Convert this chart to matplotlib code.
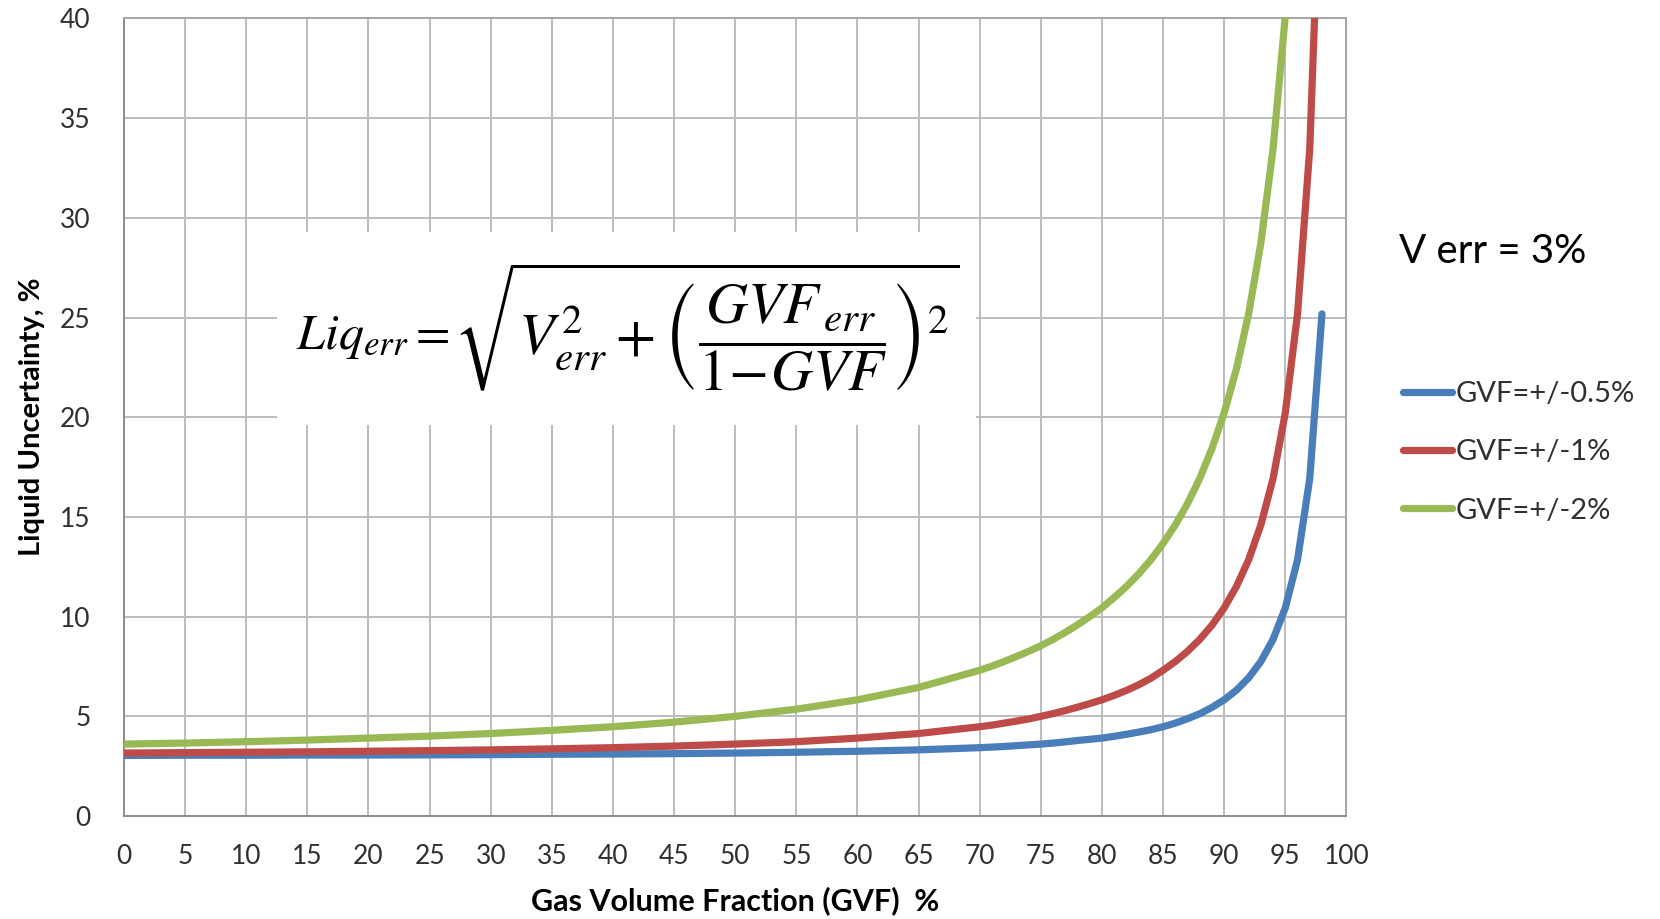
import matplotlib
matplotlib.use("Agg")
import matplotlib.pyplot as plt
from matplotlib.patches import Rectangle

# GVF points (%)
gvf = [0, 5, 10, 15, 20, 25, 30, 35, 40, 45, 50, 55, 60, 65, 70,
       71, 72, 73, 74, 75, 76, 77, 78, 79, 80, 81, 82, 83, 84, 85,
       86, 87, 88, 89, 90, 91, 92, 93, 94, 95, 96, 97, 98]

# liquid uncertainty (%) for each GVF error
liq_05 = [3.04, 3.05, 3.05, 3.06, 3.06, 3.07, 3.08, 3.10, 3.11, 3.13, 3.16, 3.20, 3.25, 3.32, 3.43,
          3.46, 3.49, 3.53, 3.57, 3.61, 3.66, 3.72, 3.79, 3.85, 3.91, 4.00, 4.10, 4.21, 4.33, 4.48,
          4.66, 4.88, 5.13, 5.45, 5.83, 6.31, 6.93, 7.75, 8.86, 10.44, 12.85, 16.93, 25.18]
liq_1 = [3.16, 3.18, 3.20, 3.22, 3.25, 3.28, 3.32, 3.37, 3.43, 3.51, 3.61, 3.73, 3.91, 4.14, 4.48,
         4.56, 4.66, 4.76, 4.87, 5.00, 5.14, 5.29, 5.46, 5.64, 5.83, 6.05, 6.30, 6.58, 6.91, 7.31,
         7.75, 8.26, 8.86, 9.57, 10.44, 11.51, 12.85, 14.60, 16.93, 20.22, 25.18, 33.47, 50.09]
gvf_2 = gvf[:40]
liq_2 = [3.61, 3.66, 3.73, 3.81, 3.91, 4.01, 4.14, 4.30, 4.48, 4.71, 5.00, 5.36, 5.83, 6.45, 7.31,
         7.52, 7.75, 8.00, 8.26, 8.54, 8.86, 9.21, 9.59, 10.00, 10.44, 10.96, 11.51, 12.14, 12.85, 13.67,
         14.60, 15.67, 16.93, 18.43, 20.22, 22.42, 25.18, 28.73, 33.47, 40.11]

labels = ["GVF=+/-0.5%", "GVF=+/-1%", "GVF=+/-2%"]
colors = ["#4A7EBB", "#BE4B48", "#98B954"]

plt.rcParams['font.family'] = ['Lato', 'DejaVu Sans']

fig = plt.figure(figsize=(16.6, 9.19), dpi=100)
ax = fig.add_axes([0.0747, 0.112, 0.7364, 0.868])

ax.plot(gvf, liq_05, color=colors[0], lw=5.2, label=labels[0], solid_capstyle='round', zorder=3)
ax.plot(gvf, liq_1, color=colors[1], lw=5.2, label=labels[1], solid_capstyle='round', zorder=3)
ax.plot(gvf_2, liq_2, color=colors[2], lw=5.2, label=labels[2], solid_capstyle='round', zorder=3)

ax.set_xlim(0, 100)
ax.set_ylim(0, 40)
ax.set_xticks(range(0, 101, 5))
ax.set_yticks(range(0, 41, 5))
ax.grid(True, color="#BDBDBD", lw=1.4)
ax.set_axisbelow(True)
for s in ax.spines.values():
    s.set_color("#A6A6A6")
    s.set_linewidth(1.4)
ax.spines['left'].set_color("#8C8C8C")
ax.spines['bottom'].set_color("#8C8C8C")
ax.tick_params(length=0, labelsize=19, labelcolor="#303030")
ax.tick_params(axis='x', pad=20)
ax.tick_params(axis='y', pad=24)

ax.set_xlabel("Gas Volume Fraction (GVF)  %", fontsize=22, fontweight='bold')
ax.set_ylabel("Liquid Uncertainty, %", fontsize=21, fontweight='bold')
ax.xaxis.set_label_coords(0.5, -0.1065)
ax.xaxis.label.set_va('center')
ax.yaxis.set_label_coords(-0.075, 0.5)
ax.yaxis.label.set_va('center')

# white box behind the formula (the equation image in the original)
ax.add_patch(Rectangle((12.5, 19.6), 57.2, 9.7, facecolor='white', edgecolor='none', zorder=2))
ax.text(26.6, 24.0, r"$Liq_{err}=$", fontsize=36, ha='right', va='center', zorder=4,
        math_fontfamily='stix')
ax.text(27.0, 24.5, r"$\sqrt{V_{err}^{2}+\left(\dfrac{GVF_{\,err}}{1\!-\!GVF}\right)^{2}}$",
        fontsize=42, ha='left', va='center', zorder=4, math_fontfamily='stix')

fig.text(0.843, 0.726, "V err = 3%", fontsize=29, va='center', ha='left', color='black')

leg = ax.legend(loc='upper left', bbox_to_anchor=(0.845, 0.585), bbox_transform=fig.transFigure,
                frameon=False, fontsize=21, handlelength=1.7, handletextpad=0.1,
                labelspacing=1.1, borderpad=0, borderaxespad=0)
for t in leg.get_texts():
    t.set_color("#303030")

fig.savefig("out.png", dpi=100)
